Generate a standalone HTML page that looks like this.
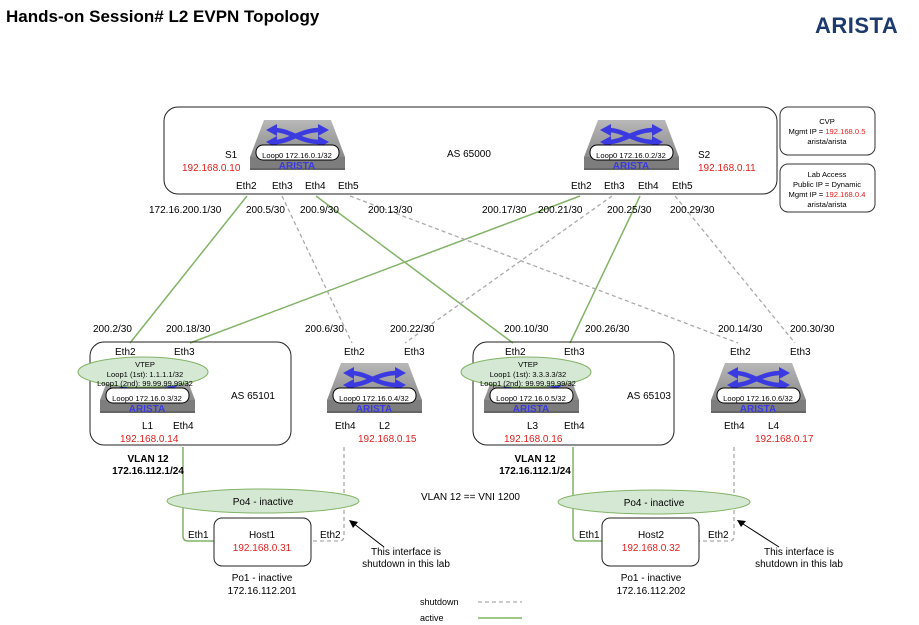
<!DOCTYPE html>
<html><head><meta charset="utf-8"><style>
html,body{margin:0;padding:0;background:#fff}
svg{display:block}
text{font-family:"Liberation Sans",Arial,sans-serif;font-size:10px;fill:#000}
.r{fill:#e0201e}
.s{font-size:8.5px}
.l{font-size:7.6px}
.a{font-size:10px;font-weight:bold;fill:#3a3ae0}
</style></head><body>
<svg width="919" height="625" viewBox="0 0 919 625" xmlns="http://www.w3.org/2000/svg">
<defs>
<linearGradient id="tg" x1="0" y1="0" x2="0" y2="1"><stop offset="0" stop-color="#b8b8b8"/><stop offset="1" stop-color="#8a8a8a"/></linearGradient>
<g id="sw">
<polygon points="14,0 81,0 95,37 0,37" fill="url(#tg)"/>
<rect x="0" y="37" width="95" height="12" fill="#7d7d7d"/>
<rect x="0" y="48" width="95" height="2" fill="#666"/>
<path d="M24,10 C40,10 50,22 70,22 M24,22 C40,22 50,10 70,10" stroke="#3a3ae0" stroke-width="4.5" fill="none"/>
<polygon points="16,10 27,4 27,16" fill="#3a3ae0"/><polygon points="16,22 27,16 27,28" fill="#3a3ae0"/>
<polygon points="79,10 68,4 68,16" fill="#3a3ae0"/><polygon points="79,22 68,16 68,28" fill="#3a3ae0"/>
<rect x="6" y="25" width="83" height="15" rx="7" fill="#fff" stroke="#000" stroke-width="1"/>
</g>
</defs>

<text x="6" y="22" style="font-size:17px;font-weight:bold">Hands-on Session# L2 EVPN Topology</text>
<text x="815" y="33" style="font-size:22px;font-weight:bold;fill:#1c3a6e;letter-spacing:0.5px">ARISTA</text>

<rect x="164" y="107" width="613" height="87" rx="14" fill="none" stroke="#222"/>
<text x="447" y="157">AS 65000</text>

<g stroke="#82b366" stroke-width="1.5" fill="none">
<line x1="247" y1="196" x2="130" y2="343"/>
<line x1="316" y1="196" x2="513" y2="343"/>
<line x1="580" y1="196" x2="190" y2="343"/>
<line x1="640" y1="196" x2="570" y2="343"/>
<path d="M183,447 V536 Q183,541 188,541 H214"/>
<path d="M573,447 V536 Q573,541 578,541 H602"/>
<line x1="478" y1="618" x2="522" y2="618"/>
</g>
<g stroke="#aaa" stroke-width="1.3" fill="none" stroke-dasharray="4,3">
<line x1="282" y1="196" x2="352" y2="343"/>
<line x1="350" y1="196" x2="738" y2="343"/>
<line x1="612" y1="196" x2="405" y2="343"/>
<line x1="675" y1="196" x2="795" y2="343"/>
<path d="M344,447 V536 Q344,541 339,541 H311"/>
<path d="M734,447 V536 Q734,541 729,541 H699"/>
<line x1="478" y1="602" x2="522" y2="602"/>
</g>

<use href="#sw" x="250" y="120"/>
<text x="297" y="158" text-anchor="middle" class="l">Loop0 172.16.0.1/32</text>
<text x="297" y="169" text-anchor="middle" class="a">ARISTA</text>
<text x="225" y="158">S1</text><text x="182" y="171" class="r">192.168.0.10</text>
<use href="#sw" x="584" y="120"/>
<text x="631" y="158" text-anchor="middle" class="l">Loop0 172.16.0.2/32</text>
<text x="631" y="169" text-anchor="middle" class="a">ARISTA</text>
<text x="698" y="158">S2</text><text x="698" y="171" class="r">192.168.0.11</text>
<text x="236" y="189">Eth2</text><text x="272" y="189">Eth3</text><text x="305" y="189">Eth4</text><text x="338" y="189">Eth5</text>
<text x="571" y="189">Eth2</text><text x="604" y="189">Eth3</text><text x="638" y="189">Eth4</text><text x="672" y="189">Eth5</text>

<text x="149" y="213">172.16.200.1/30</text><text x="246" y="213">200.5/30</text><text x="300" y="213">200.9/30</text><text x="368" y="213">200.13/30</text>
<text x="482" y="213">200.17/30</text><text x="538" y="213">200.21/30</text><text x="607" y="213">200.25/30</text><text x="670" y="213">200.29/30</text>

<rect x="780" y="107" width="95" height="48" rx="8" fill="none" stroke="#333"/>
<text x="827" y="124" text-anchor="middle" class="l">CVP</text>
<text x="827" y="134" text-anchor="middle" class="l">Mgmt IP = <tspan class="r">192.168.0.5</tspan></text>
<text x="827" y="144" text-anchor="middle" class="l">arista/arista</text>
<rect x="780" y="164" width="95" height="48" rx="8" fill="none" stroke="#333"/>
<text x="827" y="177" text-anchor="middle" class="l">Lab Access</text>
<text x="827" y="187" text-anchor="middle" class="l">Public IP = Dynamic</text>
<text x="827" y="197" text-anchor="middle" class="l">Mgmt IP = <tspan class="r">192.168.0.4</tspan></text>
<text x="827" y="207" text-anchor="middle" class="l">arista/arista</text>

<text x="93" y="332">200.2/30</text><text x="166" y="332">200.18/30</text><text x="305" y="332">200.6/30</text><text x="390" y="332">200.22/30</text>
<text x="504" y="332">200.10/30</text><text x="585" y="332">200.26/30</text><text x="718" y="332">200.14/30</text><text x="790" y="332">200.30/30</text>

<!-- L1 -->
<rect x="90" y="342" width="201" height="103" rx="14" fill="none" stroke="#222"/>
<text x="115" y="355">Eth2</text><text x="174" y="355">Eth3</text>
<use href="#sw" x="100" y="363"/>
<text x="147" y="401" text-anchor="middle" class="l">Loop0 172.16.0.3/32</text>
<text x="147" y="412" text-anchor="middle" class="a">ARISTA</text>
<ellipse cx="143" cy="372" rx="65" ry="15" fill="#d5e8d4" stroke="#82b366"/>
<text x="145" y="367" text-anchor="middle" class="l">VTEP</text>
<text x="145" y="377" text-anchor="middle" class="l">Loop1 (1st): 1.1.1.1/32</text>
<text x="145" y="386" text-anchor="middle" class="l">Loop1 (2nd): 99.99.99.99/32</text>
<text x="231" y="399">AS 65101</text>
<text x="142" y="429">L1</text><text x="173" y="429">Eth4</text>
<text x="120" y="442" class="r">192.168.0.14</text>
<text x="148" y="462" text-anchor="middle" style="font-weight:bold">VLAN 12</text>
<text x="148" y="474" text-anchor="middle" style="font-weight:bold">172.16.112.1/24</text>

<!-- L2 -->
<text x="344" y="355">Eth2</text><text x="404" y="355">Eth3</text>
<use href="#sw" x="327" y="363"/>
<text x="374" y="401" text-anchor="middle" class="l">Loop0 172.16.0.4/32</text>
<text x="374" y="412" text-anchor="middle" class="a">ARISTA</text>
<text x="335" y="429">Eth4</text><text x="379" y="429">L2</text>
<text x="358" y="442" class="r">192.168.0.15</text>

<!-- L3 -->
<rect x="473" y="342" width="201" height="103" rx="14" fill="none" stroke="#222"/>
<text x="505" y="355">Eth2</text><text x="564" y="355">Eth3</text>
<use href="#sw" x="484" y="363"/>
<text x="531" y="401" text-anchor="middle" class="l">Loop0 172.16.0.5/32</text>
<text x="531" y="412" text-anchor="middle" class="a">ARISTA</text>
<ellipse cx="526" cy="372" rx="65" ry="15" fill="#d5e8d4" stroke="#82b366"/>
<text x="528" y="367" text-anchor="middle" class="l">VTEP</text>
<text x="528" y="377" text-anchor="middle" class="l">Loop1 (1st): 3.3.3.3/32</text>
<text x="528" y="386" text-anchor="middle" class="l">Loop1 (2nd): 99.99.99.99/32</text>
<text x="627" y="399">AS 65103</text>
<text x="527" y="429">L3</text><text x="564" y="429">Eth4</text>
<text x="504" y="442" class="r">192.168.0.16</text>
<text x="535" y="462" text-anchor="middle" style="font-weight:bold">VLAN 12</text>
<text x="535" y="474" text-anchor="middle" style="font-weight:bold">172.16.112.1/24</text>

<!-- L4 -->
<text x="730" y="355">Eth2</text><text x="790" y="355">Eth3</text>
<use href="#sw" x="711" y="363"/>
<text x="758" y="401" text-anchor="middle" class="l">Loop0 172.16.0.6/32</text>
<text x="758" y="412" text-anchor="middle" class="a">ARISTA</text>
<text x="724" y="429">Eth4</text><text x="768" y="429">L4</text>
<text x="755" y="442" class="r">192.168.0.17</text>

<text x="421" y="500">VLAN 12 == VNI 1200</text>

<ellipse cx="263" cy="501" rx="96" ry="12" fill="#d5e8d4" stroke="#82b366"/>
<text x="263" y="505" text-anchor="middle">Po4 - inactive</text>
<rect x="214" y="518" width="97" height="48" rx="8" fill="#fff" stroke="#222"/>
<text x="262" y="538" text-anchor="middle">Host1</text>
<text x="262" y="551" text-anchor="middle" class="r">192.168.0.31</text>
<text x="188" y="538">Eth1</text><text x="320" y="538">Eth2</text>
<text x="262" y="581" text-anchor="middle">Po1 - inactive</text>
<text x="262" y="594" text-anchor="middle">172.16.112.201</text>

<ellipse cx="654" cy="502" rx="96" ry="12" fill="#d5e8d4" stroke="#82b366"/>
<text x="654" y="506" text-anchor="middle">Po4 - inactive</text>
<rect x="602" y="518" width="97" height="48" rx="8" fill="#fff" stroke="#222"/>
<text x="651" y="538" text-anchor="middle">Host2</text>
<text x="651" y="551" text-anchor="middle" class="r">192.168.0.32</text>
<text x="579" y="538">Eth1</text><text x="708" y="538">Eth2</text>
<text x="651" y="581" text-anchor="middle">Po1 - inactive</text>
<text x="651" y="594" text-anchor="middle">172.16.112.202</text>

<line x1="384" y1="547" x2="353" y2="523" stroke="#000"/>
<polygon points="349,520 358,522 353,528" fill="#000"/>
<text x="406" y="555" text-anchor="middle">This interface is</text>
<text x="406" y="567" text-anchor="middle">shutdown in this lab</text>
<line x1="779" y1="547" x2="740" y2="522" stroke="#000"/>
<polygon points="737,520 746,521 741,527" fill="#000"/>
<text x="799" y="555" text-anchor="middle">This interface is</text>
<text x="799" y="567" text-anchor="middle">shutdown in this lab</text>

<text x="420" y="605" style="font-size:9px">shutdown</text>
<text x="420" y="621" style="font-size:9px">active</text>
</svg>
</body></html>
